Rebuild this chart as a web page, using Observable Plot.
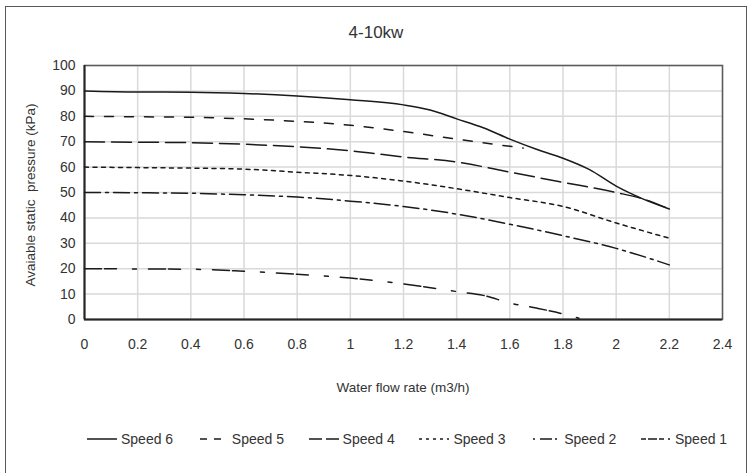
<!DOCTYPE html>
<html><head><meta charset="utf-8">
<script src="https://cdn.jsdelivr.net/npm/d3@7"></script>
<script src="https://cdn.jsdelivr.net/npm/@observablehq/plot@0.6"></script>
<style>
html,body{margin:0;padding:0;background:#fff;}
#wrap{position:relative;width:752px;height:473px;overflow:hidden;font-family:"Liberation Sans",Arial,sans-serif;color:#333;}
#border{position:absolute;left:5px;top:6px;width:742px;height:480px;border:1.5px solid #595959;box-sizing:border-box;}
#chart{position:absolute;left:0;top:0;}
#title{position:absolute;top:23px;left:0;width:752px;text-align:center;font-size:17px;color:#333;}
#xtitle{position:absolute;top:380px;left:84px;width:638px;text-align:center;font-size:13.5px;}
#ytitle{position:absolute;left:30px;top:195px;transform:translate(-50%,-50%) rotate(-90deg);white-space:pre;font-size:13.5px;}
#legend{position:absolute;top:431px;left:0;width:752px;height:20px;}
.item{position:absolute;top:0;display:flex;align-items:center;font-size:14px;white-space:nowrap;}
.item svg{margin-right:4px;}
</style></head>
<body>
<div id="wrap">
  <div id="border"></div>
  <div id="chart"></div>
  <div id="title"></div>
  <div id="xtitle"></div>
  <div id="ytitle"></div>
  <div id="legend"></div>
</div>
<script>
const titleText = "4-10kw";
const xTitle = "Water flow rate (m3/h)";
const yTitle = "Avaiable static  pressure (kPa)";
const seriesNames = ["Speed 6", "Speed 5", "Speed 4", "Speed 3", "Speed 2", "Speed 1"];
const xTicks = [0, 0.2, 0.4, 0.6, 0.8, 1, 1.2, 1.4, 1.6, 1.8, 2, 2.2, 2.4];
const xTickLabels = ["0", "0.2", "0.4", "0.6", "0.8", "1", "1.2", "1.4", "1.6", "1.8", "2", "2.2", "2.4"];
const yTicks = [0, 10, 20, 30, 40, 50, 60, 70, 80, 90, 100];

const speed6 = [[0,90],[0.2,89.6],[0.4,89.5],[0.6,89],[0.8,88],[1.0,86.5],[1.2,84.5],[1.3,82.5],[1.4,79],[1.5,75.5],[1.6,71],[1.7,67],[1.8,63.5],[1.9,59],[2.0,52.5],[2.1,47.5],[2.2,43.5]];
const speed5 = [[0,80],[0.2,79.8],[0.4,79.6],[0.6,79],[0.8,78],[1.0,76.5],[1.2,74],[1.4,71],[1.65,67.5]];
const speed4 = [[0,70],[0.2,69.8],[0.4,69.6],[0.6,69],[0.8,68],[1.0,66.4],[1.2,64],[1.4,62],[1.6,58],[1.8,54],[2.0,50],[2.1,47.5],[2.2,43.5]];
const speed3 = [[0,60],[0.2,59.8],[0.4,59.6],[0.6,59.2],[0.8,58],[1.0,56.7],[1.2,54.5],[1.4,51.5],[1.6,48],[1.8,44.5],[2.0,38],[2.2,32]];
const speed2 = [[0,50],[0.2,49.9],[0.4,49.7],[0.6,49.1],[0.8,48.2],[1.0,46.6],[1.2,44.5],[1.4,41.5],[1.6,37.5],[1.8,33],[2.0,28],[2.2,21.5]];
const speed1 = [[0,20],[0.2,19.9],[0.4,19.8],[0.6,19],[0.8,17.8],[1.0,16.3],[1.2,14],[1.4,11],[1.5,9.5],[1.6,6.5],[1.7,4.5],[1.8,2.2],[1.86,0.5]];

const seriesData = [speed6, speed5, speed4, speed3, speed2, speed1];
const dashes = ["none", "9,11", "20,7", "4,4.5", "16,5,3,5", "17,3,12,16,4,12"];
const legendDashes = ["none", "0,2,7,7,7,20", "13,4", "3,4", "0,3,2,5,12,3,2,10", "5,2,9,2,5,4,2,10"];

const rows = seriesNames.flatMap((name, i) => seriesData[i].map(([x, y]) => ({series: name, x, y})));

const lineMarks = seriesNames.map((name, i) =>
  Plot.line(rows.filter(d => d.series === name), {
    x: "x", y: "y", curve: "monotone-x",
    stroke: "#1a1a1a", strokeWidth: 1.5, strokeDasharray: dashes[i] === "none" ? null : dashes[i]
  })
);

const chart = Plot.plot({
  width: 752, height: 473,
  marginLeft: 84, marginRight: 30, marginTop: 65, marginBottom: 154,
  style: {fontFamily: '"Liberation Sans", Arial, sans-serif', fontSize: "14px", color: "#333", background: "transparent"},
  x: {domain: [0, 2.4]},
  y: {domain: [0, 100]},
  marks: [
    Plot.gridX(xTicks, {stroke: "#d9d9d9", strokeOpacity: 1, strokeWidth: 1.5}),
    Plot.gridY(yTicks, {stroke: "#d9d9d9", strokeOpacity: 1, strokeWidth: 1.5}),
    Plot.frame({stroke: "#5a5a5a", strokeWidth: 1.5}),
    Plot.ruleX([0], {stroke: "#262626", strokeWidth: 2}),
    Plot.ruleY([0], {stroke: "#262626", strokeWidth: 2}),
    Plot.axisX(xTicks, {tickSize: 0, tickPadding: 20, label: null, fontSize: 14, tickFormat: (d, i) => xTickLabels[i]}),
    Plot.axisY(yTicks, {tickSize: 0, tickPadding: 9, label: null, fontSize: 14, tickFormat: d => String(d)}),
    ...lineMarks
  ]
});
document.getElementById("chart").appendChild(chart);
document.getElementById("title").textContent = titleText;
document.getElementById("xtitle").textContent = xTitle;
document.getElementById("ytitle").textContent = yTitle;

const legend = document.getElementById("legend");
seriesNames.forEach((name, i) => {
  const item = document.createElement("div");
  item.className = "item";
  item.style.left = (87 + i * 110.8) + "px";
  const ns = "http://www.w3.org/2000/svg";
  const svg = document.createElementNS(ns, "svg");
  svg.setAttribute("width", 30); svg.setAttribute("height", 16);
  const ln = document.createElementNS(ns, "line");
  ln.setAttribute("x1", 0); ln.setAttribute("x2", 30); ln.setAttribute("y1", 8); ln.setAttribute("y2", 8);
  ln.setAttribute("stroke", "#1a1a1a"); ln.setAttribute("stroke-width", 1.5);
  if (legendDashes[i] !== "none") ln.setAttribute("stroke-dasharray", legendDashes[i]);
  svg.appendChild(ln);
  const t = document.createElement("span");
  t.textContent = name;
  item.appendChild(svg); item.appendChild(t);
  legend.appendChild(item);
});
</script>
</body></html>
